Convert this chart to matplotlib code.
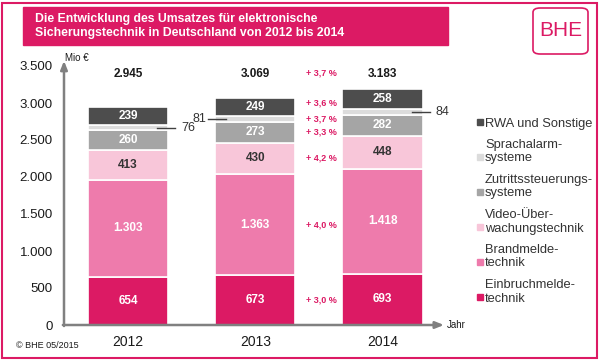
import numpy as np
import matplotlib.pyplot as plt
from matplotlib.patches import Rectangle, FancyBboxPatch

plt.rcParams['font.family'] = ['Liberation Sans', 'DejaVu Sans']

PINK = '#DC1A64'

# Data (Mio EUR), bottom segment first
years = ['2012', '2013', '2014']
einbruch = [654, 673, 693]
brand = [1303, 1363, 1418]
video = [413, 430, 448]
zutritt = [260, 273, 282]
sprach = [76, 81, 84]
rwa = [239, 249, 258]
totals = [2945, 3069, 3183]

segments = [einbruch, brand, video, zutritt, sprach, rwa]
names = ['Einbruchmelde-\ntechnik', 'Brandmelde-\ntechnik', 'Video-Über-\nwachungstechnik',
         'Zutrittssteuerungs-\nsysteme', 'Sprachalarm-\nsysteme', 'RWA und Sonstige']
colors = [PINK, '#EE7BAC', '#F8C6D9', '#A5A5A5', '#DCDCDC', '#4D4D4D']
label_colors = ['white', 'white', '#333333', 'white', None, 'white']

# growth 2013 -> 2014, per segment (bottom first), and total
growth = ['+ 3,0 %', '+ 4,0 %', '+ 4,2 %', '+ 3,3 %', '+ 3,7 %', '+ 3,6 %']
growth_total = '+ 3,7 %'

# side of the leader line for the small Sprachalarm segment
sprach_side = [1, -1, 1]


def fmt(v):
    return f"{v:,}".replace(',', '.')


fig = plt.figure(figsize=(6, 3.6), dpi=100)
ax = fig.add_axes([64 / 600, 1 - 325 / 360, 380 / 600, 259 / 360])

x = np.arange(len(years))
width = 0.63
bottom = np.zeros(len(years))
for i, seg in enumerate(segments):
    seg = np.array(seg)
    ax.bar(x, seg, width, bottom=bottom, color=colors[i], edgecolor='white', linewidth=1.2, zorder=2)
    mids = bottom + seg / 2
    for j in range(len(years)):
        if label_colors[i] is not None:
            ax.text(x[j], mids[j], fmt(seg[j]), ha='center', va='center', fontsize=8.5,
                    fontweight='bold', color=label_colors[i], zorder=3)
        else:
            s = sprach_side[j]
            ax.plot([x[j] + s * 0.23, x[j] + s * 0.37], [mids[j], mids[j]], color='#404040', lw=1, zorder=3,
                    clip_on=False)
            ax.text(x[j] + s * (0.42 if s > 0 else 0.385), mids[j], fmt(seg[j]),
                    ha='left' if s > 0 else 'right', va='center', fontsize=9, color='#333333')
    # growth labels next to 2013 segments
    gy = mids[1] + (50 if i == len(segments) - 1 else 0)
    ax.text(1.52, gy, growth[i], ha='center', va='center', fontsize=6.5, fontweight='bold', color=PINK)
    bottom = bottom + seg

for j in range(len(years)):
    ax.text(x[j], 3390, fmt(totals[j]), ha='center', va='center', fontsize=8.5, fontweight='bold',
            color='#1a1a1a')
ax.text(1.52, 3400, growth_total, ha='center', va='center', fontsize=6.5, fontweight='bold', color=PINK)

ax.set_xlim(-0.503, 2.483)
ax.set_ylim(0, 3500)
ax.set_yticks(np.arange(0, 3501, 500))
ax.set_yticklabels([fmt(v) for v in range(0, 3501, 500)], fontsize=9.5, color='#1a1a1a')
ax.set_xticks(x)
ax.set_xticklabels(years, fontsize=10, color='#1a1a1a')
ax.tick_params(axis='y', length=0, pad=8)
ax.tick_params(axis='x', length=0, pad=7)
for sp in ax.spines.values():
    sp.set_visible(False)

# axis arrows
arrow = dict(arrowstyle='-|>,head_length=0.5,head_width=0.2', color='#808080', lw=1.8,
             shrinkA=0, shrinkB=0)
ax.annotate('', xy=(0, 1.02), xytext=(0, -0.004), xycoords='axes fraction', arrowprops=arrow)
ax.annotate('', xy=(1.0, 0), xytext=(-0.003, 0), xycoords='axes fraction', arrowprops=arrow)

fig.text(65 / 600, 1 - 58 / 360, 'Mio €', fontsize=7, color='#1a1a1a', va='center')
fig.text(447 / 600, 1 - 325 / 360, 'Jahr', fontsize=7, color='#1a1a1a', va='center')
fig.text(16 / 600, 1 - 345 / 360, '© BHE 05/2015', fontsize=6.5, color='#1a1a1a', va='center')

# legend, top entry first
for k, i in enumerate(range(len(names) - 1, -1, -1)):
    yc = 122 + 35 * k
    fig.add_artist(Rectangle(((480 - 3) / 600, 1 - (yc + 3) / 360), 6 / 600, 6 / 360,
                             transform=fig.transFigure, color=colors[i]))
    fig.text(485 / 600, 1 - (yc + 4.5) / 360, names[i], fontsize=9.3, color='#333333',
             va='baseline', ha='left', linespacing=1.15)

# title box
fig.add_artist(Rectangle((23 / 600, 1 - 45 / 360), 425 / 600, 38 / 360, transform=fig.transFigure,
                         color=PINK))
fig.text(35 / 600, 1 - 26 / 360,
         'Die Entwicklung des Umsatzes für elektronische\nSicherungstechnik in Deutschland von 2012 bis 2014',
         fontsize=8.8, fontweight='bold', color='white', va='center', linespacing=1.15)

# BHE logo
fig.add_artist(FancyBboxPatch((533 / 600, 1 - 54 / 360), 55 / 600, 46 / 360,
                              boxstyle='round,pad=0,rounding_size=0.012', transform=fig.transFigure,
                              facecolor='white', edgecolor=PINK, lw=1.2))
fig.text(560.5 / 600, 1 - 31 / 360, 'BHE', fontsize=15, color=PINK, ha='center', va='center')

# outer frame
fig.add_artist(Rectangle((2 / 600, 2 / 360), 595 / 600, 355 / 360, transform=fig.transFigure,
                         fill=False, edgecolor=PINK, lw=1.5))

fig.savefig('out.png', dpi=100)
